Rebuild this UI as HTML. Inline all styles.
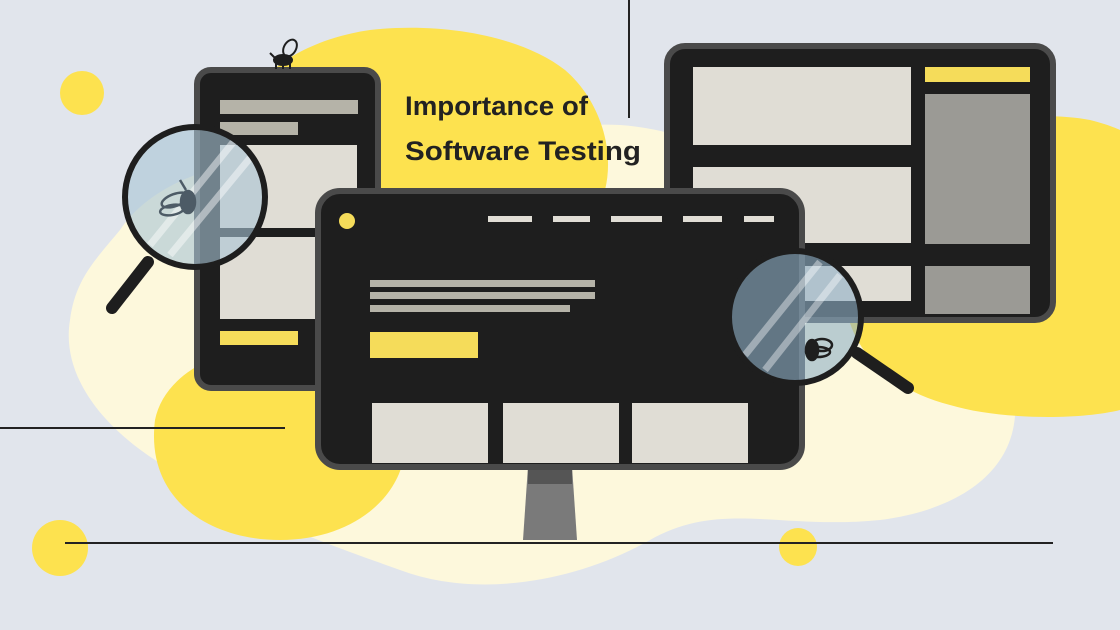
<!DOCTYPE html>
<html><head><meta charset="utf-8"><style>
html,body{margin:0;padding:0;background:#e1e5ec;width:1120px;height:630px;overflow:hidden}
svg{display:block}
</style></head><body>
<svg width="1120" height="630" viewBox="0 0 1120 630" xmlns="http://www.w3.org/2000/svg">
<rect width="1120" height="630" fill="#e1e5ec"/>
<path d="M120 230 C160 170 260 150 330 160 C420 170 520 120 620 125 C700 130 790 180 870 230 C950 280 1010 330 1015 400 C1020 470 960 510 880 520 C780 530 720 500 650 540 C580 580 480 600 400 570 C330 545 260 520 190 480 C110 440 60 380 70 320 C75 280 95 260 120 230 Z" fill="#fdf8dc"/>
<path d="M245 130 C240 80 300 40 370 30 C440 22 520 35 565 70 C600 100 615 150 605 190 L250 190 C245 170 247 150 245 130 Z" fill="#fde24f"/>
<path d="M880 140 C950 120 1040 110 1090 120 C1110 125 1120 130 1120 130 L1120 410 C1080 420 1000 420 950 405 C890 390 850 350 845 300 C840 240 840 160 880 140 Z" fill="#fde24f"/>
<path d="M155 420 C165 370 230 340 300 345 C370 350 410 400 405 450 C400 500 350 540 280 540 C210 540 145 500 155 420 Z" fill="#fde24f"/>
<circle cx="82" cy="93" r="22" fill="#fde24f"/>
<circle cx="60" cy="548" r="28" fill="#fde24f"/>
<circle cx="798" cy="547" r="19" fill="#fde24f"/>
<line x1="629" y1="0" x2="629" y2="118" stroke="#222" stroke-width="2"/>
<line x1="0" y1="428" x2="285" y2="428" stroke="#222" stroke-width="2"/>
<line x1="65" y1="543" x2="1053" y2="543" stroke="#222" stroke-width="2"/>

<text x="405" y="115" font-family="Liberation Sans, sans-serif" font-weight="bold" font-size="27" fill="#222" textLength="183" lengthAdjust="spacingAndGlyphs">Importance of</text>
<text x="405" y="160" font-family="Liberation Sans, sans-serif" font-weight="bold" font-size="27" fill="#222" textLength="236" lengthAdjust="spacingAndGlyphs">Software Testing</text>

<rect x="197" y="70" width="181" height="318" rx="14" fill="#1e1e1e" stroke="#4a4a4a" stroke-width="6"/>
<rect x="220" y="100" width="138" height="14" fill="#b5b3a8"/>
<rect x="220" y="122" width="78" height="13" fill="#b5b3a8"/>
<rect x="220" y="145" width="137" height="83" fill="#e0ddd5"/>
<rect x="220" y="237" width="137" height="82" fill="#e0ddd5"/>
<rect x="220" y="331" width="78" height="14" fill="#f5dc5a"/>
<g fill="none" stroke="#1e1e1e" stroke-width="2">
<ellipse cx="290" cy="48" rx="6" ry="9" transform="rotate(30 290 48)"/>
<ellipse cx="283" cy="60" rx="9" ry="5" fill="#1e1e1e"/>
<line x1="276" y1="63" x2="276" y2="69"/><line x1="283" y1="63" x2="283" y2="69"/><line x1="290" y1="63" x2="290" y2="69"/>
<line x1="275" y1="58" x2="270" y2="53"/>
</g>

<rect x="667" y="46" width="386" height="274" rx="18" fill="#1e1e1e" stroke="#4a4a4a" stroke-width="6"/>
<rect x="693" y="67" width="218" height="78" fill="#e0ddd5"/>
<rect x="925" y="67" width="105" height="15" fill="#f5dc5a"/>
<rect x="925" y="94" width="105" height="150" fill="#9b9a95"/>
<rect x="693" y="167" width="218" height="76" fill="#e0ddd5"/>
<rect x="693" y="266" width="218" height="35" fill="#e0ddd5"/>
<rect x="925" y="266" width="105" height="48" fill="#9b9a95"/>

<path d="M528 466 L572 466 L577 540 L523 540 Z" fill="#7a7a7a"/>
<rect x="528" y="466" width="44" height="18" fill="#555"/>
<rect x="318" y="191" width="484" height="276" rx="22" fill="#1e1e1e" stroke="#4a4a4a" stroke-width="6"/>
<circle cx="347" cy="221" r="8" fill="#f5dc5a"/>
<g fill="#e0ddd5">
<rect x="488" y="216" width="44" height="6"/><rect x="553" y="216" width="37" height="6"/><rect x="611" y="216" width="51" height="6"/><rect x="683" y="216" width="39" height="6"/><rect x="744" y="216" width="30" height="6"/>
</g>
<rect x="370" y="280" width="225" height="7" fill="#b5b3a8"/>
<rect x="370" y="292" width="225" height="7" fill="#b5b3a8"/>
<rect x="370" y="305" width="200" height="7" fill="#b5b3a8"/>
<rect x="370" y="332" width="108" height="26" fill="#f5dc5a"/>
<rect x="372" y="403" width="116" height="60" fill="#e0ddd5"/>
<rect x="503" y="403" width="116" height="60" fill="#e0ddd5"/>
<rect x="632" y="403" width="116" height="60" fill="#e0ddd5"/>

<line x1="148" y1="262" x2="112" y2="308" stroke="#1e1e1e" stroke-width="12" stroke-linecap="round"/>
<circle cx="195" cy="197" r="70" fill="#a9c4d6" fill-opacity="0.6"/>
<path d="M150 245 L235 140 M170 255 L250 158" stroke="#fff" stroke-opacity="0.45" stroke-width="7"/>
<g fill="none" stroke="#4d5b66" stroke-width="2.5">
<ellipse cx="175" cy="200" rx="14" ry="6" transform="rotate(-20 175 200)"/>
<ellipse cx="172" cy="210" rx="12" ry="5" transform="rotate(-10 172 210)"/>
<ellipse cx="188" cy="202" rx="7" ry="11" fill="#4d5b66"/>
<line x1="186" y1="190" x2="180" y2="180"/>
</g>
<circle cx="195" cy="197" r="70" fill="none" stroke="#1e1e1e" stroke-width="6"/>

<line x1="857" y1="353" x2="908" y2="388" stroke="#1e1e1e" stroke-width="12" stroke-linecap="round"/>
<circle cx="795" cy="317" r="66" fill="#8fb1c8" fill-opacity="0.6"/>
<path d="M745 355 L820 262 M765 370 L840 275" stroke="#fff" stroke-opacity="0.4" stroke-width="7"/>
<g fill="none" stroke="#1e1e1e" stroke-width="2.5">
<ellipse cx="822" cy="345" rx="10" ry="6"/>
<ellipse cx="818" cy="352" rx="12" ry="5"/>
<ellipse cx="812" cy="350" rx="6" ry="10" fill="#1e1e1e"/>
</g>
<circle cx="795" cy="317" r="66" fill="none" stroke="#1e1e1e" stroke-width="6"/>
</svg>
</body></html>
